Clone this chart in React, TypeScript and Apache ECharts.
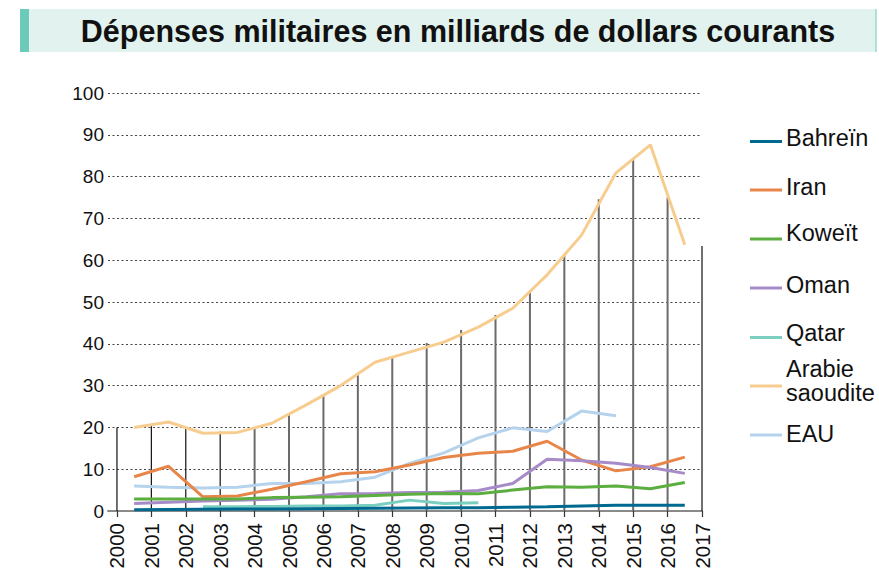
import React, { useEffect, useRef } from "react";
import * as echarts from "echarts";

const years = [2000, 2001, 2002, 2003, 2004, 2005, 2006, 2007, 2008, 2009, 2010, 2011, 2012, 2013, 2014, 2015, 2016];
const tickYears = [2000, 2001, 2002, 2003, 2004, 2005, 2006, 2007, 2008, 2009, 2010, 2011, 2012, 2013, 2014, 2015, 2016, 2017];
const yTicks = [0, 10, 20, 30, 40, 50, 60, 70, 80, 90, 100];

const seriesNames = ["Bahreïn", "Iran", "Koweït", "Oman", "Qatar", "Arabie saoudite", "EAU"];
const bahrein = [0.3, 0.35, 0.4, 0.45, 0.5, 0.55, 0.6, 0.65, 0.7, 0.75, 0.8, 0.9, 1.0, 1.2, 1.35, 1.35, 1.35];
const iran = [8.2, 10.7, 3.4, 3.6, 5.2, 7.0, 8.9, 9.4, 11.0, 12.8, 13.8, 14.3, 16.7, 12.2, 9.6, 10.6, 12.9];
const koweit = [2.9, 2.9, 2.9, 2.9, 3.2, 3.3, 3.4, 3.7, 4.0, 4.2, 4.1, 5.0, 5.8, 5.7, 6.0, 5.3, 6.8];
const oman = [1.8, 2.1, 2.4, 2.6, 2.8, 3.4, 4.1, 4.2, 4.4, 4.5, 4.9, 6.6, 12.4, 12.0, 11.4, 10.4, 9.0];
const qatar = [null, null, 1.0, 1.0, 1.1, 1.2, 1.2, 1.4, 2.6, 1.8, 2.0, null, null, null, null, null, null];
const arabie = [20.0, 21.3, 18.6, 18.8, 21.0, 25.4, 30.0, 35.6, 38.0, 40.4, 44.0, 48.5, 56.5, 66.0, 80.9, 87.6, 63.7];
const eau = [6.0, 5.7, 5.5, 5.7, 6.6, 6.6, 7.0, 8.1, 11.4, 13.9, 17.5, 19.9, 19.0, 23.9, 22.8, null, null];
const dropHeights = [20.0, 20.8, 20.0, 19.0, 20.0, 23.2, 27.8, 32.5, 37.0, 40.2, 43.3, 46.9, 52.6, 61.5, 74.6, 84.0, 75.0, 63.4];

const colors = ["#00698f", "#e8864a", "#5bae3f", "#a68bc8", "#7bcfc0", "#f7cd8f", "#b5d3ec"];
const allValues = [bahrein, iran, koweit, oman, qatar, arabie, eau];
const drawOrder = [6, 1, 3, 2, 4, 0, 5];
const legendLineY = [141.5, 190, 239, 288, 337.5, 386, 435];
const legendTextY = [138, 187, 233, 285, 333, 381, 434];

const FONT = "'Liberation Sans', Arial, Helvetica, sans-serif";

export default function App() {
  const ref = useRef<HTMLDivElement>(null);
  useEffect(() => {
    if (!ref.current) return;
    const chart = echarts.init(ref.current, null, { renderer: "svg" });
    const lineSeries = drawOrder.map((i) => ({
      type: "line",
      name: seriesNames[i],
      data: years.map((y, k) => [y + 0.5, allValues[i][k]]),
      showSymbol: false,
      symbol: "none",
      connectNulls: false,
      lineStyle: { color: colors[i], width: 3 },
      itemStyle: { color: colors[i] },
      z: 3 + (i === 5 ? 1 : 0),
    }));
    const legendGraphics: any[] = [];
    seriesNames.forEach((n, i) => {
      legendGraphics.push({
        type: "line",
        shape: { x1: 750, y1: legendLineY[i], x2: 782, y2: legendLineY[i] },
        style: { stroke: colors[i], lineWidth: 3 },
      });
      legendGraphics.push({
        type: "text",
        x: 786,
        y: legendTextY[i],
        style: {
          text: n === "Arabie saoudite" ? "Arabie\nsaoudite" : n,
          font: `23.5px ${FONT}`,
          fill: "#111",
          verticalAlign: "middle",
          align: "left",
          lineHeight: 24,
        },
      });
    });
    chart.setOption({
      animation: false,
      grid: { left: 108, right: 177, top: 93, bottom: 70, containLabel: false },
      xAxis: {
        type: "value",
        min: 1999.74,
        max: 2017,
        axisLine: { show: true, onZero: true, lineStyle: { color: "#8a8a8a", width: 2 } },
        axisTick: { show: true, customValues: tickYears, length: 6, lineStyle: { color: "#333", width: 1.2 } },
        axisLabel: {
          customValues: tickYears,
          rotate: 90,
          margin: 12,
          fontSize: 20.5,
          fontFamily: FONT,
          color: "#111",
          formatter: (v: number) => String(Math.round(v)),
        },
        splitLine: { show: false },
      },
      yAxis: {
        type: "value",
        min: 0,
        max: 100,
        interval: 10,
        axisLine: { show: false },
        axisTick: { show: false },
        axisLabel: {
          fontSize: 19,
          fontFamily: FONT,
          color: "#111",
          margin: 4,
          formatter: (v: number) => (yTicks.includes(v) ? String(v) : ""),
        },
        splitLine: { show: true, lineStyle: { color: "#444", type: [2, 2.5], width: 1.2 } },
      },
      graphic: [
        { type: "rect", shape: { x: 28, y: 9, width: 848, height: 43 }, style: { fill: "#e2f3ef" } },
        { type: "rect", shape: { x: 20, y: 9, width: 9, height: 43 }, style: { fill: "#6ccab9" } },
        { type: "line", shape: { x1: 876, y1: 9, x2: 876, y2: 52 }, style: { stroke: "#6ccab9", lineWidth: 1 } },
        {
          type: "text",
          x: 458,
          y: 30.5,
          style: {
            text: "Dépenses militaires en milliards de dollars courants",
            font: `bold 30.5px ${FONT}`,
            fill: "#111",
            align: "center",
            verticalAlign: "middle",
          },
        },
        ...legendGraphics,
      ],
      series: [
        {
          type: "custom",
          name: "drops",
          z: 1,
          data: tickYears.map((y, k) => [y, dropHeights[k]]),
          renderItem: (params: any, api: any) => {
            const x = api.value(0);
            const h = api.value(1);
            const p0 = api.coord([x, 0]);
            const p1 = api.coord([x, h]);
            const thin = x <= 2003 || x === 2017;
            return {
              type: "line",
              shape: { x1: p0[0], y1: p0[1], x2: p1[0], y2: p1[1] },
              style: { stroke: thin ? "#111" : "#6b6b6b", lineWidth: thin ? 1.2 : 2 },
            };
          },
        },
        ...lineSeries,
      ],
    });
    return () => chart.dispose();
  }, []);
  return <div ref={ref} style={{ width: 879, height: 581, position: "absolute", left: 0, top: 0 }} />;
}
